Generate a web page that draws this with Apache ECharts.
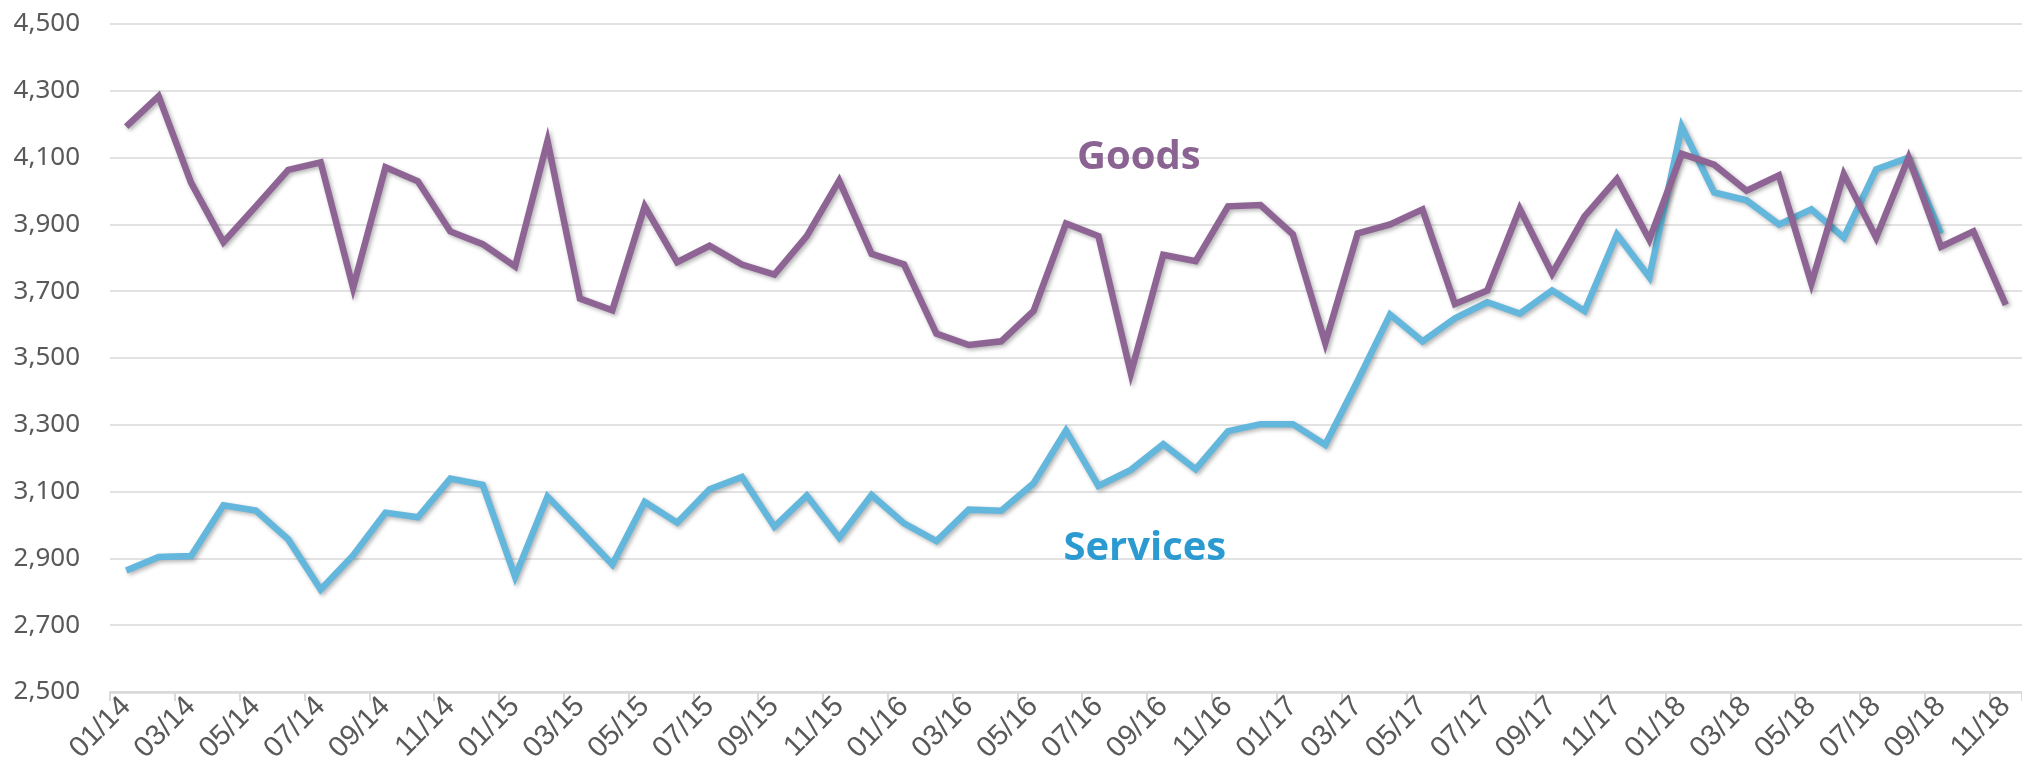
<!DOCTYPE html>
<html>
<head>
<meta charset="utf-8">
<script src="https://cdn.jsdelivr.net/npm/echarts@6.0.0/dist/echarts.min.js"></script>
<style>
  html, body { margin: 0; padding: 0; background: #fff; }
  #chart { width: 2022px; height: 779px; }
</style>
</head>
<body>
<div id="chart"></div>
<script>
// monthly categories, Jan 2014 .. Nov 2018
const months = [
  '01/14', '02/14', '03/14', '04/14', '05/14', '06/14', '07/14', '08/14', '09/14', '10/14', '11/14', '12/14',
  '01/15', '02/15', '03/15', '04/15', '05/15', '06/15', '07/15', '08/15', '09/15', '10/15', '11/15', '12/15',
  '01/16', '02/16', '03/16', '04/16', '05/16', '06/16', '07/16', '08/16', '09/16', '10/16', '11/16', '12/16',
  '01/17', '02/17', '03/17', '04/17', '05/17', '06/17', '07/17', '08/17', '09/17', '10/17', '11/17', '12/17',
  '01/18', '02/18', '03/18', '04/18', '05/18', '06/18', '07/18', '08/18', '09/18', '10/18', '11/18'
]

const goods = [
  4193, 4284, 4025, 3847, 3954, 4063, 4086, 3710, 4071, 4029, 3879, 3841,
  3774, 4150, 3678, 3643, 3954, 3787, 3836, 3780, 3750, 3865, 4031, 3812,
  3780, 3573, 3539, 3550, 3641, 3903, 3865, 3454, 3809, 3790, 3954, 3958,
  3870, 3545, 3873, 3900, 3945, 3662, 3702, 3947, 3753, 3924, 4036, 3854,
  4111, 4079, 4001, 4047, 3723, 4050, 3860, 4100, 3833, 3879, 3659
]

const services = [
  2864, 2904, 2907, 3059, 3043, 2957, 2807, 2909, 3037, 3023, 3139, 3120,
  2845, 3085, 2984, 2882, 3069, 3007, 3107, 3144, 2995, 3088, 2962, 3090,
  3005, 2952, 3046, 3043, 3125, 3283, 3117, 3165, 3242, 3167, 3281, 3302,
  3302, 3240, 3432, 3630, 3550, 3619, 3667, 3633, 3702, 3641, 3870, 3742,
  4193, 3996, 3972, 3900, 3945, 3860, 4065, 4100, 3873
]

const yMin = 2500
const yMax = 4500
const yStep = 200

// where the in-chart series names sit (category, value)
const goodsLabelAt = ['08/16', 4100]
const servicesLabelAt = ['08/16', 2930]

const GOODS_COLOR = '#8d6494'
const SERVICES_COLOR = '#63b7dc'

const chart = echarts.init(document.getElementById('chart'))

const lineShadow = {
  shadowColor: 'rgba(0, 0, 0, 0.3)',
  shadowBlur: 4,
  shadowOffsetX: 2,
  shadowOffsetY: 2
}

const nameLabel = (name, at, color, offset) => ({
  silent: true,
  symbol: 'rect',
  symbolSize: 1,
  itemStyle: { color: 'rgba(0,0,0,0)' },
  label: {
    show: true,
    position: 'inside',
    formatter: name,
    offset,
    color,
    fontFamily: 'Open Sans',
    fontWeight: 'bold',
    fontSize: 40
  },
  data: [{ coord: at }]
})

chart.setOption({
  animation: false,
  backgroundColor: '#fff',
  grid: {
    left: 110,
    top: 24,
    right: -15,
    bottom: 87
  },
  xAxis: {
    type: 'category',
    data: months,
    boundaryGap: true,
    axisLine: { lineStyle: { color: '#d9d9d9', width: 2.5 } },
    axisTick: {
      show: true,
      interval: 1,
      length: 9,
      lineStyle: { color: '#d9d9d9', width: 2 }
    },
    axisLabel: {
      interval: 1,
      rotate: 45,
      margin: 10,
      color: '#595959',
      fontFamily: 'Liberation Sans',
      fontSize: 29
    },
    splitLine: { show: false }
  },
  yAxis: {
    type: 'value',
    min: yMin,
    max: yMax,
    interval: yStep,
    axisLine: { show: false },
    axisTick: { show: false },
    axisLabel: {
      margin: 30,
      color: '#595959',
      fontFamily: 'Noto Sans',
      fontSize: 26,
      formatter: v => v.toLocaleString('en-US')
    },
    splitLine: { lineStyle: { color: '#d9d9d9', width: 1.5 } }
  },
  series: [
    {
      name: 'Services',
      type: 'line',
      data: services,
      showSymbol: false,
      symbol: 'none',
      lineStyle: { color: SERVICES_COLOR, width: 6.5, join: 'miter', ...lineShadow },
      markPoint: nameLabel('Services', servicesLabelAt, '#2b9ad0', [14, 0])
    },
    {
      name: 'Goods',
      type: 'line',
      data: goods,
      showSymbol: false,
      symbol: 'none',
      lineStyle: { color: GOODS_COLOR, width: 6.5, join: 'miter', ...lineShadow },
      markPoint: nameLabel('Goods', goodsLabelAt, '#8b6393', [8, 0])
    }
  ]
})
</script>
</body>
</html>
